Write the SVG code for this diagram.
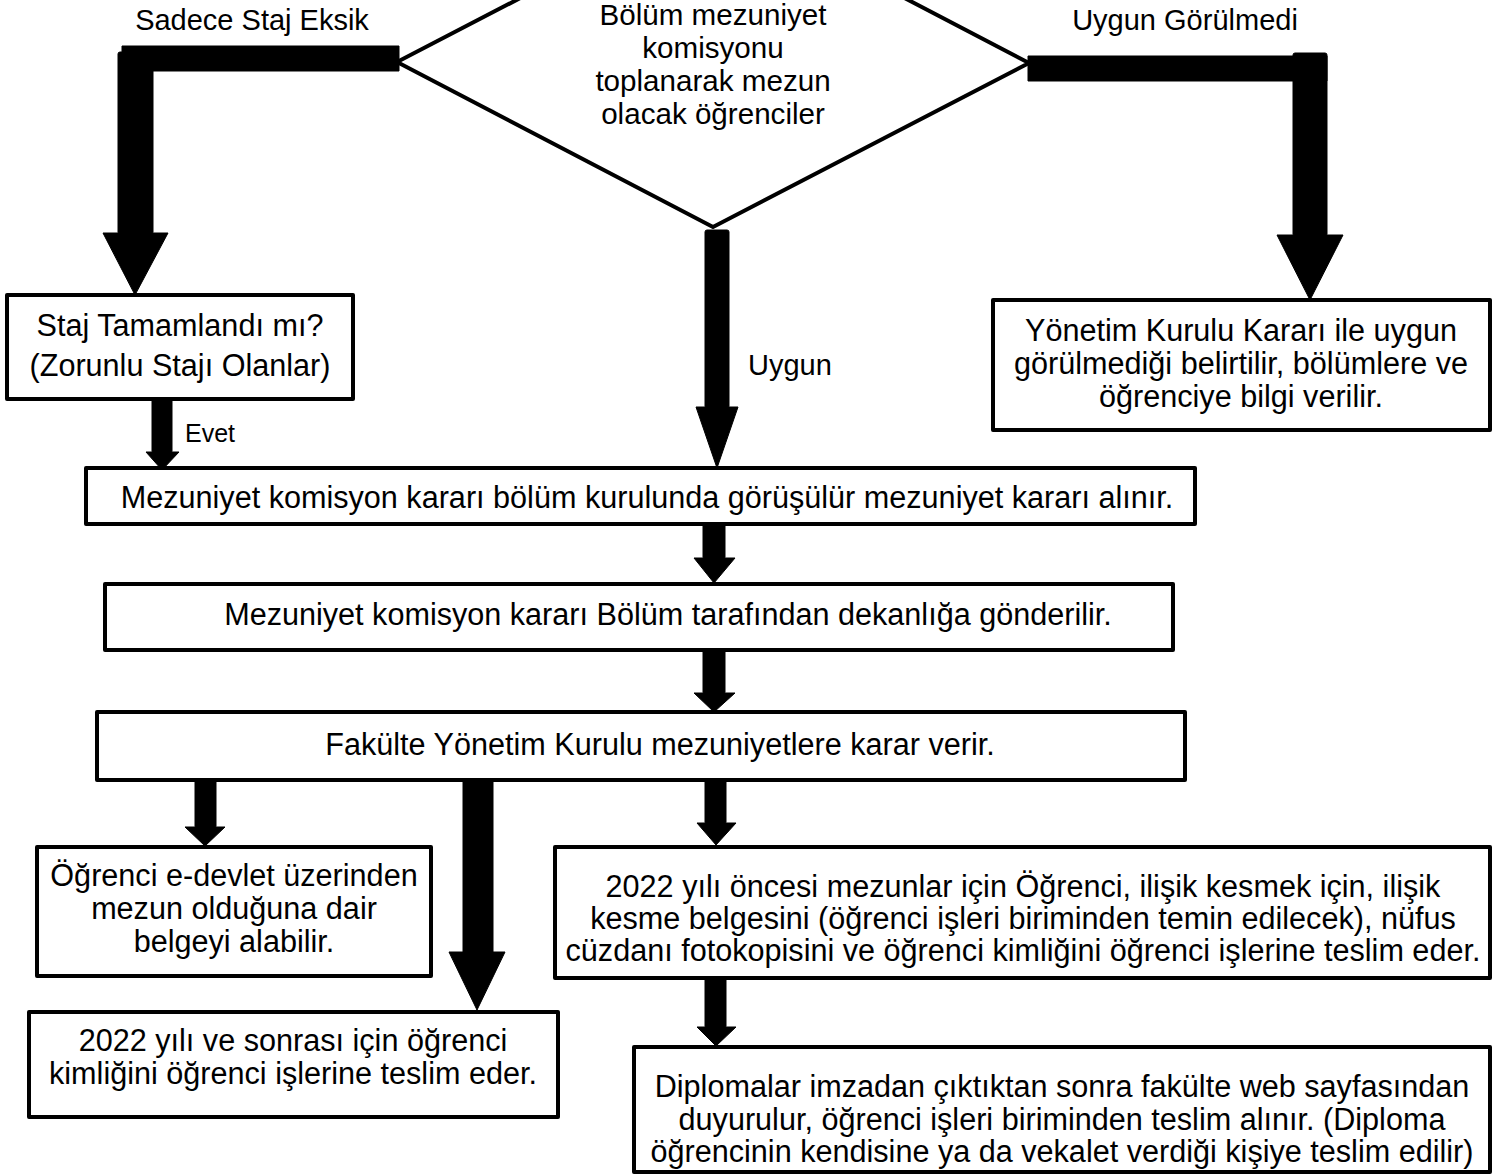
<svg xmlns="http://www.w3.org/2000/svg" width="1494" height="1176" viewBox="0 0 1494 1176">
<style>
.box{fill:#fff;stroke:#000;stroke-width:4;stroke-linejoin:round}
.t{font-family:"Liberation Sans",Arial,sans-serif;font-size:30.6px;fill:#000;text-anchor:middle}
.d{font-family:"Liberation Sans",Arial,sans-serif;font-size:29.6px;fill:#000;text-anchor:middle}
.l{font-family:"Liberation Sans",Arial,sans-serif;font-size:29px;fill:#000}
.a{fill:#000;stroke:#000;stroke-width:1;stroke-linejoin:round}
</style>
<rect width="1494" height="1176" fill="#fff"/>
<g id="decision">
<polygon class="box" points="713,-102 1029,63 713,227 397,62"/>
<text class="d" x="713" y="25">Bölüm mezuniyet</text>
<text class="d" x="713" y="58">komisyonu</text>
<text class="d" x="713" y="91">toplanarak mezun</text>
<text class="d" x="713" y="124">olacak öğrenciler</text>
</g>
<g id="connectors">
<rect class="a" x="122" y="46" width="277" height="25"/>
<rect class="a" x="118" y="52" width="35" height="182" rx="2"/>
<polygon class="a" points="103,233 168,233 135,295"/>
<rect class="a" x="1028" y="56" width="299" height="25"/>
<rect class="a" x="1293" y="53" width="34" height="183" rx="2"/>
<polygon class="a" points="1277,235 1343,235 1310,300"/>
<rect class="a" x="705" y="230" width="24" height="178" rx="2"/>
<polygon class="a" points="696,407 738,407 717,468"/>
<rect class="a" x="152" y="392" width="20" height="61" rx="2"/>
<polygon class="a" points="146,452 179,452 162,470"/>
<rect class="a" x="703" y="517" width="22" height="42" rx="2"/>
<polygon class="a" points="694,558 735,558 714,583"/>
<rect class="a" x="703" y="645" width="22" height="49" rx="2"/>
<polygon class="a" points="694,693 735,693 714,712"/>
<rect class="a" x="195" y="777" width="21" height="51" rx="2"/>
<polygon class="a" points="185,827 225,827 205,846"/>
<rect class="a" x="463" y="781" width="30" height="172"/>
<polygon class="a" points="449,952 505,952 477,1010"/>
<rect class="a" x="705" y="775" width="21" height="49" rx="2"/>
<polygon class="a" points="697,823 736,823 716,845"/>
<rect class="a" x="705" y="978" width="21" height="50" rx="2"/>
<polygon class="a" points="697,1027 736,1027 716,1046"/>
<text class="l" x="252" y="30" text-anchor="middle">Sadece Staj Eksik</text>
<text class="l" x="1185" y="30" text-anchor="middle">Uygun Görülmedi</text>
<text class="l" x="748" y="375">Uygun</text>
<text class="l" style="font-size:25px" x="185" y="442">Evet</text>
</g>
<g id="staj">
<rect class="box" x="7" y="295" width="346" height="104"/>
<text class="t" x="180" y="336">Staj Tamamlandı mı?</text>
<text class="t" x="180" y="376">(Zorunlu Stajı Olanlar)</text>
</g>
<g id="yonetim">
<rect class="box" x="993" y="300" width="497" height="130"/>
<text class="t" x="1241" y="341">Yönetim Kurulu Kararı ile uygun</text>
<text class="t" x="1241" y="374">görülmediği belirtilir, bölümlere ve</text>
<text class="t" x="1241" y="407">öğrenciye bilgi verilir.</text>
</g>
<g id="box1">
<rect class="box" x="86" y="468" width="1109" height="56"/>
<text class="t" x="647" y="508">Mezuniyet komisyon kararı bölüm kurulunda görüşülür mezuniyet kararı alınır.</text>
</g>
<g id="box2">
<rect class="box" x="105" y="584" width="1068" height="66"/>
<text class="t" x="668" y="625">Mezuniyet komisyon kararı Bölüm tarafından dekanlığa gönderilir.</text>
</g>
<g id="box3">
<rect class="box" x="97" y="712" width="1088" height="68"/>
<text class="t" x="660" y="755">Fakülte Yönetim Kurulu mezuniyetlere karar verir.</text>
</g>
<g id="box4">
<rect class="box" x="37" y="847" width="394" height="129"/>
<text class="t" x="234" y="886">Öğrenci e-devlet üzerinden</text>
<text class="t" x="234" y="919">mezun olduğuna dair</text>
<text class="t" x="234" y="952">belgeyi alabilir.</text>
</g>
<g id="box5">
<rect class="box" x="29" y="1012" width="529" height="105"/>
<text class="t" x="293" y="1051">2022 yılı ve sonrası için öğrenci</text>
<text class="t" x="293" y="1084">kimliğini öğrenci işlerine teslim eder.</text>
</g>
<g id="box6">
<rect class="box" x="555" y="847" width="935" height="131"/>
<text class="t" x="1023" y="897">2022 yılı öncesi mezunlar için Öğrenci, ilişik kesmek için, ilişik</text>
<text class="t" x="1023" y="929">kesme belgesini (öğrenci işleri biriminden temin edilecek), nüfus</text>
<text class="t" x="1023" y="961">cüzdanı fotokopisini ve öğrenci kimliğini öğrenci işlerine teslim eder.</text>
</g>
<g id="box7">
<rect class="box" x="634" y="1047" width="856" height="125"/>
<text class="t" x="1062" y="1097">Diplomalar imzadan çıktıktan sonra fakülte web sayfasından</text>
<text class="t" x="1062" y="1130">duyurulur, öğrenci işleri biriminden teslim alınır. (Diploma</text>
<text class="t" x="1062" y="1162">öğrencinin kendisine ya da vekalet verdiği kişiye teslim edilir)</text>
</g>
</svg>
